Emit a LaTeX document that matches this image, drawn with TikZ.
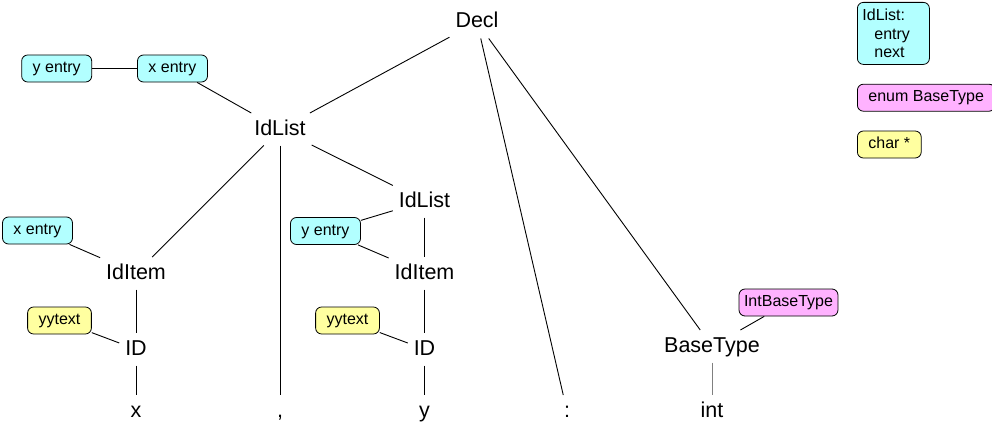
\documentclass[tikz,border=0pt]{standalone}
\usepackage{fontspec}
\setmainfont{Liberation Sans}
\usetikzlibrary{positioning}
\definecolor{entrycyan}{RGB}{178,255,255}
\definecolor{typepink}{RGB}{255,178,255}
\definecolor{textyellow}{RGB}{255,255,160}

\begin{document}
\begin{tikzpicture}[
  x=1pt, y=-1pt,
  sym/.style={font=\fontsize{21.5}{24}\selectfont, text height=16pt, text depth=4.5pt, inner xsep=5pt, inner ysep=5pt, outer sep=1pt},
  attr/.style={draw, rounded corners=6pt, line width=0.8pt, font=\fontsize{16}{18.5}\selectfont},
  onebox/.style={attr, minimum height=27pt, inner xsep=11pt, text height=11.5pt, text depth=3.5pt},
  entrybox/.style={onebox, fill=entrycyan},
  typebox/.style={onebox, fill=typepink},
  textbox/.style={onebox, fill=textyellow},
  link/.style={line width=0.9pt}
]
\useasboundingbox (0,0) rectangle (992,428);

\node[sym] (decl) at (477,22.25) {Decl};
\node[sym] (idlist) at (280,129.25) {IdList};
\node[sym] (idlistb) at (424.5,201.25) {IdList};
\node[sym] (iditema) at (136,273.25) {IdItem};
\node[sym] (iditemb) at (424.5,273.25) {IdItem};
\node[sym] (ida) at (136,349.25) {ID};
\node[sym] (idb) at (424.5,349.25) {ID};
\node[sym] (basetype) at (712,346.25) {BaseType};

\node[sym] (xtok) at (136,411.25) {x};
\node[sym] (comma) at (280,411.25) {,};
\node[sym] (ytok) at (424.5,411.25) {y};
\node[sym] (colon) at (567,411.25) {:};
\node[sym] (inttok) at (712,411.25) {int};

\node[entrybox] (xtop) at (172.5,68.5) {x entry};
\node[entrybox, left=45pt of xtop] (ytop) {y entry};
\node[entrybox] (xleft) at (37.5,230.5) {x entry};
\node[entrybox] (ymid) at (325.5,231) {y entry};
\node[textbox] (yytexta) at (59.5,320.5) {yytext};
\node[textbox] (yytextb) at (347.5,320.5) {yytext};
\node[typebox, inner xsep=5pt] (intbt) at (788.5,302.5) {IntBaseType};

\node[attr, fill=entrycyan, anchor=north west, text width=62pt, minimum height=62pt, align=left, inner xsep=5pt] (keyidlist) at (857,2) {IdList:\\\hspace*{12pt}entry\\\hspace*{12pt}next};
\node[typebox, below right=19pt and 0pt of keyidlist.south west] (keyenum) {enum BaseType};
\node[textbox, below right=19pt and 0pt of keyenum.south west] (keychar) {char *};

\draw[link] (decl) -- (idlist);
\draw[link] (decl) -- (colon);
\draw[link] (decl) -- (basetype);
\draw[link] (idlist) -- (comma);
\draw[link] (idlist) -- (iditema);
\draw[link] (idlist) -- (idlistb);
\draw[link] (xtop) -- (idlist);
\draw[link] (ytop) -- (xtop);
\draw[link] (idlistb) -- (iditemb);
\draw[link] (ymid) -- (idlistb);
\draw[link] (ymid) -- (iditemb);
\draw[link] (iditema) -- (ida);
\draw[link] (xleft) -- (iditema);
\draw[link] (ida) -- (xtok);
\draw[link] (yytexta) -- (ida);
\draw[link] (iditemb) -- (idb);
\draw[link] (yytextb) -- (idb);
\draw[link] (idb) -- (ytok);
\draw[link, gray] (basetype) -- (inttok);
\draw[link] (intbt) -- (basetype);
\end{tikzpicture}
\end{document}
